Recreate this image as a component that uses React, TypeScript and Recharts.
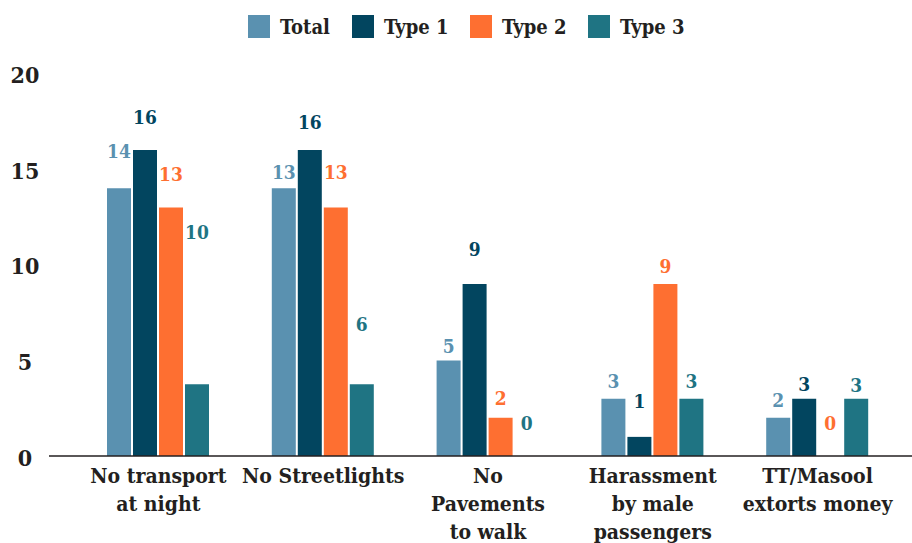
import { Bar, BarChart, LabelList, Rectangle, XAxis, YAxis } from 'recharts';

/* ---- data ---------------------------------------------------------------- */

const categories = [
  'No transport\nat night',
  'No Streetlights',
  'No\nPavements\nto walk',
  'Harassment\nby male\npassengers',
  'TT/Masool\nextorts money',
];

// bar heights as drawn
const total = [14, 14, 5, 3, 2];
const type1 = [16, 16, 9, 1, 3];
const type2 = [13, 13, 2, 9, 0];
const type3 = [3.75, 3.75, 0, 3, 3];

// printed labels (the source prints some that differ from the bar heights)
const totalLabels = [14, 13, 5, 3, 2];
const type1Labels = [16, 16, 9, 1, 3];
const type2Labels = [13, 13, 2, 9, 0];
const type3Labels = [10, 6, 0, 3, 3];

// level (in axis units) at which each printed label sits
const totalLabelAt = [15.97, 14.85, 5.75, 3.92, 2.93];
const type1LabelAt = [17.7, 17.46, 10.8, 2.85, 3.76];
const type2LabelAt = [14.77, 14.85, 3.03, 9.93, 1.75];
const type3LabelAt = [11.7, 6.88, 1.73, 3.9, 3.71];

const yTicks = [0, 5, 10, 15, 20];

/* ---- look ---------------------------------------------------------------- */

const W = 912;
const H = 543;
const TOP = 73.5;
const X_AXIS_H = 87;
const Y_AXIS_W = 49;
const Y_MAX = 20;
const PLOT_H = H - TOP - X_AXIS_H;

const FONT = '"DejaVu Serif Condensed", "DejaVu Serif", "Liberation Serif", serif';
const INK = '#231f20';

const COLORS = {
  total: '#5a91b0',
  type1: '#02455f',
  type2: '#fe6f31',
  type3: '#1f7483',
};

const SERIES = [
  { key: 'total', name: 'Total', color: COLORS.total, values: total, labels: totalLabels, at: totalLabelAt },
  { key: 'type1', name: 'Type 1', color: COLORS.type1, values: type1, labels: type1Labels, at: type1LabelAt },
  { key: 'type2', name: 'Type 2', color: COLORS.type2, values: type2, labels: type2Labels, at: type2LabelAt },
  { key: 'type3', name: 'Type 3', color: COLORS.type3, values: type3, labels: type3Labels, at: type3LabelAt },
];

const data = categories.map((name, i) => {
  const row: Record<string, string | number> = { name };
  SERIES.forEach((s) => {
    row[s.key] = s.values[i];
    row[s.key + 'Label'] = s.labels[i];
  });
  return row;
});

// legend square positions, matching the source layout
const LEGEND_X = [248, 352, 470, 588];

const TEXT = { fontFamily: FONT, fontWeight: 'bold' as const, fontStretch: 'condensed' };

/* ---- ticks and labels ---------------------------------------------------- */

function CategoryTick({ x, payload }: any) {
  const lines = String(payload.value).split('\n');
  const y0 = H - X_AXIS_H + 19;
  return (
    <text textAnchor="middle" style={TEXT} fontSize={21} fill={INK}>
      {lines.map((l, i) => (
        <tspan key={i} x={x} y={y0 + i * 28} dominantBaseline="central">
          {l}
        </tspan>
      ))}
    </text>
  );
}

function ValueTick({ y, payload }: any) {
  return (
    <text
      x={25}
      y={y + 1}
      textAnchor="middle"
      dominantBaseline="central"
      style={TEXT}
      fontSize={23}
      fill={INK}
    >
      {payload.value}
    </text>
  );
}

function makeLabel(at: number[], color: string) {
  return (p: any) => {
    const { x, width, index, value } = p;
    const cy = TOP + PLOT_H * (1 - at[index] / Y_MAX);
    return (
      <text
        x={Number(x) + Number(width) / 2}
        y={cy}
        textAnchor="middle"
        dominantBaseline="central"
        style={TEXT}
        fontSize={19}
        fill={color}
      >
        {value}
      </text>
    );
  };
}

// zero bars draw nothing, but keep their slot so the label still appears
function BarShape(p: any) {
  if (!p.value) return <g />;
  return <Rectangle {...p} />;
}

/* ---- chart --------------------------------------------------------------- */

export default function App() {
  return (
    <div style={{ position: 'relative', width: W, height: H, background: '#fff' }}>
      <style>{'body{margin:0}'}</style>
      {SERIES.map((s, i) => (
        <div
          key={s.key}
          style={{
            position: 'absolute',
            left: LEGEND_X[i],
            top: 15,
            height: 23,
            display: 'flex',
            alignItems: 'center',
            ...TEXT,
            fontSize: 20,
            color: INK,
            whiteSpace: 'nowrap',
          }}
        >
          <span style={{ width: 22, height: 23, background: s.color, marginRight: 10 }} />
          {s.name}
        </div>
      ))}
      <BarChart
        width={W}
        height={H}
        data={data}
        margin={{ top: TOP, right: 0, bottom: 0, left: 0 }}
        barSize={24}
        barGap={2}
      >
        <XAxis
          dataKey="name"
          height={X_AXIS_H}
          interval={0}
          padding={{ left: 27, right: 12 }}
          tickLine={false}
          axisLine={{ stroke: INK, strokeWidth: 1.5 }}
          tick={<CategoryTick />}
        />
        <YAxis
          width={Y_AXIS_W}
          domain={[0, Y_MAX]}
          ticks={yTicks}
          axisLine={false}
          tickLine={false}
          tick={<ValueTick />}
        />
        {SERIES.map((s) => (
          <Bar
            key={s.key}
            dataKey={s.key}
            name={s.name}
            fill={s.color}
            minPointSize={1}
            shape={<BarShape />}
            isAnimationActive={false}
          >
            <LabelList dataKey={s.key + 'Label'} content={makeLabel(s.at, s.color)} />
          </Bar>
        ))}
      </BarChart>
    </div>
  );
}
